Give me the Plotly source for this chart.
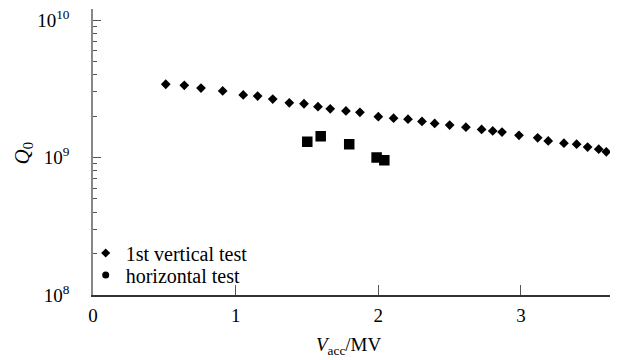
import plotly.graph_objects as go

# 1st vertical test
v_vert = [0.51, 0.64, 0.757, 0.909, 1.053, 1.154, 1.26, 1.376, 1.479, 1.577, 1.663,
          1.773, 1.871, 2.0, 2.107, 2.208, 2.306, 2.395, 2.5, 2.614, 2.724, 2.802,
          2.867, 2.986, 3.117, 3.191, 3.301, 3.39, 3.467, 3.545, 3.598]
q_vert = [3.41e9, 3.35e9, 3.20e9, 3.05e9, 2.85e9, 2.80e9, 2.66e9, 2.50e9, 2.46e9,
          2.34e9, 2.26e9, 2.18e9, 2.13e9, 1.98e9, 1.93e9, 1.90e9, 1.83e9, 1.77e9,
          1.72e9, 1.66e9, 1.60e9, 1.56e9, 1.53e9, 1.45e9, 1.39e9, 1.32e9, 1.27e9,
          1.25e9, 1.19e9, 1.15e9, 1.10e9]

# horizontal test
v_hor = [1.502, 1.596, 1.796, 1.988, 2.042]
q_hor = [1.30e9, 1.43e9, 1.25e9, 1.00e9, 0.955e9]

x_ticks = [0, 1, 2, 3]
y_tickvals = [1e8, 1e9, 1e10]
y_ticktext = ["10<sup>8</sup>", "10<sup>9</sup>", "10<sup>10</sup>"]

FONT = "Liberation Serif"

fig = go.Figure()
fig.add_trace(go.Scatter(x=v_vert, y=q_vert, mode="markers", showlegend=False,
                         marker=dict(symbol="diamond", size=7.5, color="black")))
fig.add_trace(go.Scatter(x=v_hor, y=q_hor, mode="markers", showlegend=False,
                         marker=dict(symbol="square", size=9, color="black",
                                     line=dict(color="black", width=1.5))))
# legend entries (one legend per entry for exact row placement)
fig.add_trace(go.Scatter(x=[None], y=[None], mode="markers", name="1st vertical test",
                         legend="legend",
                         marker=dict(symbol="diamond", size=7, color="black")))
fig.add_trace(go.Scatter(x=[None], y=[None], mode="markers", name="horizontal test",
                         legend="legend2",
                         marker=dict(symbol="circle", size=7, color="black")))

legend_common = dict(xanchor="left", yanchor="middle", bgcolor="rgba(0,0,0,0)",
                     font=dict(size=20, family=FONT), itemwidth=30)

fig.update_layout(
    width=610, height=352,
    margin=dict(l=85, r=3, t=1, b=65),
    plot_bgcolor="white", paper_bgcolor="white",
    font=dict(family=FONT, size=19, color="black"),
    legend=dict(x=-0.014, y=0.147, **legend_common),
    legend2=dict(x=-0.014, y=0.070, **legend_common),
    xaxis=dict(range=[0, 3.659], tickvals=x_ticks, ticks="inside", ticklen=10,
               tickwidth=1.2, tickcolor="#555", showline=True, linecolor="#333",
               linewidth=1.5, showgrid=False, zeroline=False, automargin=False,
               ticklabelstandoff=2, ticklabeloverflow="allow", tickfont=dict(size=19)),
    yaxis=dict(type="log", range=[8, 10.08], tickvals=y_tickvals, ticktext=y_ticktext,
               ticks="inside", ticklen=8, tickwidth=1.2, tickcolor="#555",
               showline=True, linecolor="#888", linewidth=1.5, showgrid=False,
               zeroline=False, ticklabelstandoff=18, automargin=False,
               ticklabeloverflow="allow", tickfont=dict(size=19),
               minor=dict(ticks="inside", ticklen=4, tickcolor="#555", tickwidth=1,
                          dtick="D1", showgrid=False)),
    annotations=[
        dict(text="<i>V</i><sub>acc</sub>/MV", xref="paper", yref="paper",
             x=0.49, y=-0.178, xanchor="center", yanchor="middle",
             showarrow=False, font=dict(size=19)),
        dict(text="<i>Q</i><sub>0</sub>", xref="paper", yref="paper",
             x=-0.135, y=0.497, xanchor="center", yanchor="middle", textangle=-90,
             showarrow=False, font=dict(size=21)),
    ],
)

fig.write_html("out.html")
